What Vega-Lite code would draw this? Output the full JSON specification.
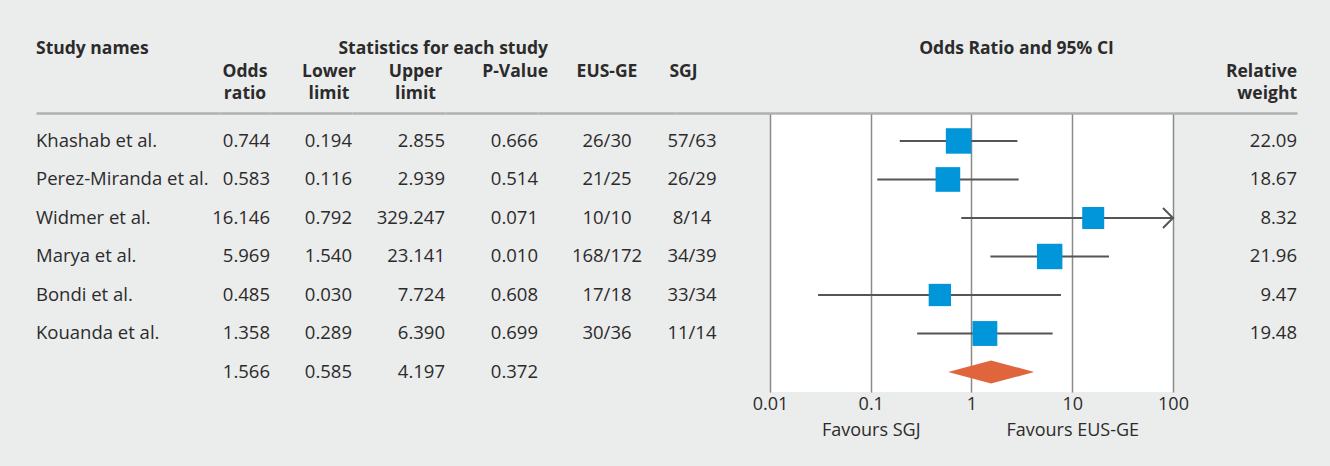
{
  "$schema": "https://vega.github.io/schema/vega-lite/v6.json",
  "background": "#ebecec",
  "padding": {"left": 36, "right": 33, "top": 40, "bottom": 30},
  "bounds": "flush",
  "spacing": 0,
  "config": {
    "font": "Open Sans",
    "view": {"stroke": null},
    "title": {"font": "Open Sans", "fontSize": 17.5, "fontWeight": "bold", "color": "#2b2b2b", "lineHeight": 22.7, "offset": 10, "baseline": "bottom"},
    "text": {"font": "Open Sans", "fontSize": 18.5, "color": "#2b2b2b"},
    "axis": {"labelFont": "Open Sans", "labelColor": "#2b2b2b"}
  },
  "data": {"values": [
    {"id": 1, "type": "study", "name": "Khashab et al.", "estimate": 0.744, "lower": 0.194, "upper": 2.855, "p": 0.666, "eus": "26/30", "sgj": "57/63", "weight": 22.09},
    {"id": 2, "type": "study", "name": "Perez-Miranda et al.", "estimate": 0.583, "lower": 0.116, "upper": 2.939, "p": 0.514, "eus": "21/25", "sgj": "26/29", "weight": 18.67},
    {"id": 3, "type": "study", "name": "Widmer et al.", "estimate": 16.146, "lower": 0.792, "upper": 329.247, "p": 0.071, "eus": "10/10", "sgj": "8/14", "weight": 8.32},
    {"id": 4, "type": "study", "name": "Marya et al.", "estimate": 5.969, "lower": 1.540, "upper": 23.141, "p": 0.010, "eus": "168/172", "sgj": "34/39", "weight": 21.96},
    {"id": 5, "type": "study", "name": "Bondi et al.", "estimate": 0.485, "lower": 0.030, "upper": 7.724, "p": 0.608, "eus": "17/18", "sgj": "33/34", "weight": 9.47},
    {"id": 6, "type": "study", "name": "Kouanda et al.", "estimate": 1.358, "lower": 0.289, "upper": 6.390, "p": 0.699, "eus": "30/36", "sgj": "11/14", "weight": 19.48},
    {"id": 7, "type": "summary", "name": "", "estimate": 1.566, "lower": 0.585, "upper": 4.197, "p": 0.372, "eus": "", "sgj": ""}
  ]},
  "hconcat": [
    {
      "width": 184, "height": 279,
      "title": {"text": ["Study names", "", ""], "anchor": "start"},
      "mark": {"type": "text", "align": "left", "baseline": "middle"},
      "encoding": {
        "x": {"datum": 0, "type": "quantitative", "scale": {"domain": [0, 1], "nice": false}, "axis": {"orient": "top", "labels": false, "ticks": false, "grid": false, "title": null, "domainColor": "#aeb0b2", "domainWidth": 2.5}},
        "y": {"field": "id", "type": "ordinal", "scale": {"type": "point", "domain": [1, 2, 3, 4, 5, 6, 7], "padding": 0.623, "align": 0.583}, "axis": null},
        "text": {"field": "name"}
      }
    },
    {
      "width": 50, "height": 279,
      "title": {"text": ["", "Odds", "ratio"], "anchor": "middle"},
      "mark": {"type": "text", "align": "right", "baseline": "middle"},
      "encoding": {
        "x": {"datum": 1, "type": "quantitative", "scale": {"domain": [0, 1], "nice": false}, "axis": {"orient": "top", "labels": false, "ticks": false, "grid": false, "title": null, "domainColor": "#aeb0b2", "domainWidth": 2.5}},
        "y": {"field": "id", "type": "ordinal", "scale": {"type": "point", "domain": [1, 2, 3, 4, 5, 6, 7], "padding": 0.623, "align": 0.583}, "axis": null},
        "text": {"field": "estimate", "type": "quantitative", "format": ".3f"}
      }
    },
    {
      "width": 82, "height": 279,
      "title": {"text": ["", "Lower", "limit"], "anchor": "middle", "dx": 18},
      "mark": {"type": "text", "align": "right", "baseline": "middle"},
      "encoding": {
        "x": {"datum": 1, "type": "quantitative", "scale": {"domain": [0, 1], "nice": false}, "axis": {"orient": "top", "labels": false, "ticks": false, "grid": false, "title": null, "domainColor": "#aeb0b2", "domainWidth": 2.5}},
        "y": {"field": "id", "type": "ordinal", "scale": {"type": "point", "domain": [1, 2, 3, 4, 5, 6, 7], "padding": 0.623, "align": 0.583}, "axis": null},
        "text": {"field": "lower", "type": "quantitative", "format": ".3f"}
      }
    },
    {
      "width": 93, "height": 279,
      "title": {"text": ["", "Upper", "limit"], "anchor": "middle", "dx": 17},
      "mark": {"type": "text", "align": "right", "baseline": "middle"},
      "encoding": {
        "x": {"datum": 1, "type": "quantitative", "scale": {"domain": [0, 1], "nice": false}, "axis": {"orient": "top", "labels": false, "ticks": false, "grid": false, "title": null, "domainColor": "#aeb0b2", "domainWidth": 2.5}},
        "y": {"field": "id", "type": "ordinal", "scale": {"type": "point", "domain": [1, 2, 3, 4, 5, 6, 7], "padding": 0.623, "align": 0.583}, "axis": null},
        "text": {"field": "upper", "type": "quantitative", "format": ".3f"}
      }
    },
    {
      "width": 93, "height": 279,
      "title": {"text": ["Statistics for each study", "", "P-Value"], "anchor": "end", "align": "right", "dx": 10},
      "mark": {"type": "text", "align": "right", "baseline": "middle"},
      "encoding": {
        "x": {"datum": 1, "type": "quantitative", "scale": {"domain": [0, 1], "nice": false}, "axis": {"orient": "top", "labels": false, "ticks": false, "grid": false, "title": null, "domainColor": "#aeb0b2", "domainWidth": 2.5}},
        "y": {"field": "id", "type": "ordinal", "scale": {"type": "point", "domain": [1, 2, 3, 4, 5, 6, 7], "padding": 0.623, "align": 0.583}, "axis": null},
        "text": {"field": "p", "type": "quantitative", "format": ".3f"}
      }
    },
    {
      "width": 138, "height": 279,
      "title": {"text": ["", "", "EUS-GE"], "anchor": "middle"},
      "mark": {"type": "text", "align": "center", "baseline": "middle"},
      "encoding": {
        "x": {"datum": 0.5, "type": "quantitative", "scale": {"domain": [0, 1], "nice": false}, "axis": {"orient": "top", "labels": false, "ticks": false, "grid": false, "title": null, "domainColor": "#aeb0b2", "domainWidth": 2.5}},
        "y": {"field": "id", "type": "ordinal", "scale": {"type": "point", "domain": [1, 2, 3, 4, 5, 6, 7], "padding": 0.623, "align": 0.583}, "axis": null},
        "text": {"field": "eus"}
      }
    },
    {
      "width": 94, "height": 279,
      "title": {"text": ["", "", "SGJ"], "anchor": "start", "align": "center", "dx": 16},
      "mark": {"type": "text", "align": "center", "baseline": "middle"},
      "encoding": {
        "x": {"datum": 0.17, "type": "quantitative", "scale": {"domain": [0, 1], "nice": false}, "axis": {"orient": "top", "labels": false, "ticks": false, "grid": false, "title": null, "domainColor": "#aeb0b2", "domainWidth": 2.5}},
        "y": {"field": "id", "type": "ordinal", "scale": {"type": "point", "domain": [1, 2, 3, 4, 5, 6, 7], "padding": 0.623, "align": 0.583}, "axis": null},
        "text": {"field": "sgj"}
      }
    },
    {
      "width": 403, "height": 279,
      "view": {"fill": "white", "stroke": null},
      "title": {"text": ["Odds Ratio and 95% CI", "", ""], "anchor": "middle", "dx": 45},
      "resolve": {"axis": {"x": "independent"}},
      "layer": [
        {
          "transform": [{"filter": "datum.type === 'study'"}],
          "mark": {"type": "rule", "color": "#555555", "strokeWidth": 2},
          "encoding": {
            "x": {"field": "lower", "type": "quantitative", "scale": {"type": "log", "domain": [0.01, 100], "nice": false, "clamp": true},
                  "axis": {"orient": "bottom", "values": [0.01, 0.1, 1, 10, 100], "format": "~g", "grid": true, "gridColor": "#8a8a8a", "gridWidth": 1.5, "ticks": false, "domain": false, "labelFontSize": 18, "labelPadding": 3, "labelFlush": false, "labelOverlap": false, "labelBound": false, "title": null}},
            "x2": {"field": "upper"},
            "y": {"field": "id", "type": "ordinal", "scale": {"type": "point", "domain": [1, 2, 3, 4, 5, 6, 7], "padding": 0.623, "align": 0.583}, "axis": null}
          }
        },
        {
          "transform": [{"filter": "datum.type === 'study'"}],
          "mark": {"type": "point", "shape": "square", "filled": true, "color": "#0096d9", "opacity": 1},
          "encoding": {
            "x": {"field": "estimate", "type": "quantitative", "scale": {"type": "log", "domain": [0.01, 100], "nice": false, "clamp": true},
                  "axis": {"orient": "top", "labels": false, "ticks": false, "grid": false, "title": null, "domainColor": "#aeb0b2", "domainWidth": 2.5}},
            "y": {"field": "id", "type": "ordinal", "scale": {"type": "point", "domain": [1, 2, 3, 4, 5, 6, 7], "padding": 0.623, "align": 0.583}, "axis": null},
            "size": {"field": "weight", "type": "quantitative", "scale": {"domain": [8, 23], "range": [480, 660], "zero": false}, "legend": null}
          }
        },
        {
          "transform": [{"filter": "datum.type === 'summary'"}],
          "mark": {"type": "point", "shape": "M-1,0L0,-0.27L1,0L0,0.27Z", "filled": true, "color": "#e0643c", "opacity": 1, "size": 7396},
          "encoding": {
            "x": {"field": "estimate", "type": "quantitative", "scale": {"type": "log", "domain": [0.01, 100], "nice": false, "clamp": true},
                  "axis": {"orient": "bottom", "values": [0.1, 10], "labelExpr": "datum.value < 1 ? 'Favours SGJ' : 'Favours EUS-GE'", "offset": 25, "grid": false, "ticks": false, "domain": false, "labelFontSize": 18, "labelPadding": 4, "labelFlush": false, "labelOverlap": false, "labelBound": false, "title": null}},
            "y": {"field": "id", "type": "ordinal", "scale": {"type": "point", "domain": [1, 2, 3, 4, 5, 6, 7], "padding": 0.623, "align": 0.583}, "axis": null}
          }
        },
        {
          "transform": [{"filter": "datum.upper > 100"}],
          "mark": {"type": "point", "shape": "M-1,-1L0,0L-1,1", "filled": false, "color": "#555555", "strokeWidth": 2, "opacity": 1, "size": 400},
          "encoding": {
            "x": {"field": "upper", "type": "quantitative", "scale": {"type": "log", "domain": [0.01, 100], "nice": false, "clamp": true}, "axis": null},
            "y": {"field": "id", "type": "ordinal", "scale": {"type": "point", "domain": [1, 2, 3, 4, 5, 6, 7], "padding": 0.623, "align": 0.583}, "axis": null}
          }
        }
      ]
    },
    {
      "width": 124, "height": 279,
      "title": {"text": ["", "Relative", "weight"], "anchor": "end", "align": "right"},
      "transform": [{"filter": "datum.type === 'study'"}],
      "mark": {"type": "text", "align": "right", "baseline": "middle"},
      "encoding": {
        "x": {"datum": 1, "type": "quantitative", "scale": {"domain": [0, 1], "nice": false}, "axis": {"orient": "top", "labels": false, "ticks": false, "grid": false, "title": null, "domainColor": "#aeb0b2", "domainWidth": 2.5}},
        "y": {"field": "id", "type": "ordinal", "scale": {"type": "point", "domain": [1, 2, 3, 4, 5, 6, 7], "padding": 0.623, "align": 0.583}, "axis": null},
        "text": {"field": "weight", "type": "quantitative", "format": ".2f"}
      }
    }
  ]
}
